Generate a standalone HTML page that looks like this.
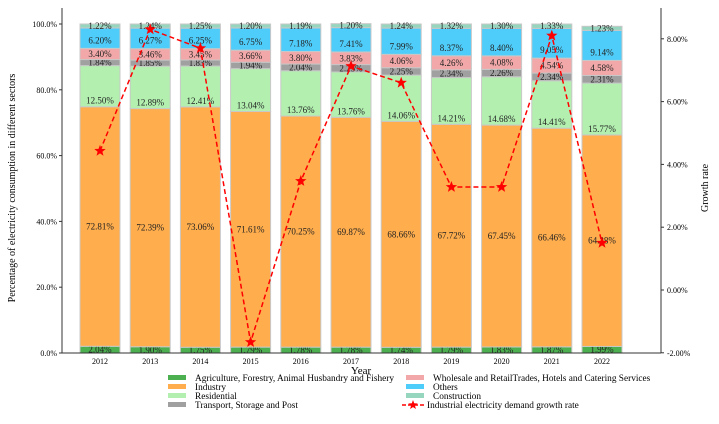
<!DOCTYPE html>
<html><head><meta charset="utf-8"><style>
body{margin:0;background:#fff;width:719px;height:419px;overflow:hidden}
svg{font-family:"Liberation Serif",serif}
</style></head><body>
<svg id="c" width="719" height="419"></svg>
<script>
const years=["2012","2013","2014","2015","2016","2017","2018","2019","2020","2021","2022"];
const agriculture=[2.04,1.90,1.75,1.79,1.78,1.78,1.74,1.79,1.83,1.87,1.99];
const industry=[72.81,72.39,73.06,71.61,70.25,69.87,68.66,67.72,67.45,66.46,64.28];
const residential=[12.50,12.89,12.41,13.04,13.76,13.76,14.06,14.21,14.68,14.41,15.77];
const transport=[1.84,1.85,1.83,1.94,2.04,2.25,2.25,2.34,2.26,2.34,2.31];
const wholesale=[3.40,3.46,3.45,3.66,3.80,3.83,4.06,4.26,4.08,4.54,4.58];
const others=[6.20,6.27,6.25,6.75,7.18,7.41,7.99,8.37,8.40,9.05,9.14];
const construction=[1.22,1.24,1.25,1.20,1.19,1.20,1.24,1.32,1.30,1.33,1.23];
const growth=[4.43,8.3,7.7,-1.66,3.47,7.13,6.6,3.28,3.28,8.1,1.5];
const leftTicks=[0,20,40,60,80,100];
const rightTicks=[-2,0,2,4,6,8];
const NS="http://www.w3.org/2000/svg";
const svg=document.getElementById('c');
function mk(t,a,txt){const e=document.createElementNS(NS,t);for(const k in a)e.setAttribute(k,a[k]);if(txt!==undefined)e.textContent=txt;svg.appendChild(e);return e;}
const L=62,R=661,T=8,B=353;
const yL=v=>353-v*3.29;
const yR=v=>290-v*31.4;
const xC=i=>100+i*50.2;
const bw=40;
const series=[[agriculture,"#4caf50","agriculture"],[industry,"#ffad4d","industry"],[residential,"#b3f0b0","residential"],[transport,"#a0a0a0","transport"],[wholesale,"#f2a8a8","wholesale"],[others,"#4fcdfa","others"],[construction,"#96d6be","construction"]];
years.forEach((y,i)=>{
  let cum=0;
  series.forEach(([arr,col,nm])=>{
    const v=arr[i];const y0=yL(cum),y1=yL(cum+v);
    const r=mk('rect',{x:xC(i)-bw/2,y:y1,width:bw,height:y0-y1,fill:col,stroke:"#c8c8c8","stroke-width":1});
    
    
    let ty=(y0+y1)/2+3;
    if(nm==="residential")ty=y0-3;
    if(nm==="others")ty=y0-5;
    const t=mk('text',{x:xC(i),y:ty,"font-size":9,"text-anchor":"middle",fill:"#222"},v.toFixed(2)+"%");
    
    
    cum+=v;
  });
  const tk=mk('text',{x:xC(i),y:364,"font-size":8,"text-anchor":"middle"},y);
  
  
});
mk('line',{x1:L,y1:T,x2:L,y2:B,stroke:"#333"});
mk('line',{x1:R,y1:T,x2:R,y2:B,stroke:"#333"});
mk('line',{x1:L,y1:B,x2:R,y2:B,stroke:"#333"});
leftTicks.forEach(v=>{
  mk('line',{x1:L-3,y1:yL(v),x2:L,y2:yL(v),stroke:"#333"});
  const t=mk('text',{x:L-5,y:yL(v)+3,"font-size":8,"text-anchor":"end"},v.toFixed(1)+"%");
  
  
});
rightTicks.forEach(v=>{
  mk('line',{x1:R,y1:yR(v),x2:R+3,y2:yR(v),stroke:"#333"});
  const t=mk('text',{x:R+6,y:yR(v)+3,"font-size":8},v.toFixed(2)+"%");
  
  
});
const pl=mk('polyline',{points:growth.map((g,i)=>xC(i)+","+yR(g)).join(" "),fill:"none",stroke:"#f00","stroke-width":1.5,"stroke-dasharray":"5,3"});


function star(cx,cy,r){let p=[];for(let k=0;k<10;k++){const a=-Math.PI/2+k*Math.PI/5;const rr=k%2?r*0.42:r;p.push((cx+rr*Math.cos(a)).toFixed(1)+","+(cy+rr*Math.sin(a)).toFixed(1));}return p.join(" ");}
growth.forEach((g,i)=>{
  const s=mk('polygon',{points:star(xC(i),yR(g),6),fill:"#f00"});
  
  
});
const xt=mk('text',{x:361,y:374,"font-size":11,"text-anchor":"middle"},"Year");

const yt=mk('text',{x:0,y:0,"font-size":10,"text-anchor":"middle",transform:"translate(15,188) rotate(-90)"},"Percentage of electricity consumption in different sectors");

const rt=mk('text',{x:0,y:0,"font-size":10,"text-anchor":"middle",transform:"translate(708,188) rotate(-90)"},"Growth rate");

const leg=[[168,378,"#4caf50","Agriculture, Forestry, Animal Husbandry and Fishery"],[168,387,"#ffad4d","Industry"],[168,396,"#b3f0b0","Residential"],[168,405,"#a0a0a0","Transport, Storage and Post"],[406,378,"#f2a8a8","Wholesale and RetailTrades, Hotels and Catering Services"],[406,387,"#4fcdfa","Others"],[406,396,"#96d6be","Construction"]];
leg.forEach(([x,y,c,t])=>{
  const r=mk('rect',{x:x,y:y-3,width:18,height:5,fill:c});
  
  const tx=mk('text',{x:x+27,y:y+3,"font-size":9.3},t);
  
});
mk('line',{x1:402,y1:405,x2:424,y2:405,stroke:"#f00","stroke-width":1.5,"stroke-dasharray":"4,2"});
mk('polygon',{points:star(413,405,5),fill:"#f00"});
const lg=mk('text',{x:427,y:408,"font-size":9.3},"Industrial electricity demand growth rate");

</script>
</body></html>
